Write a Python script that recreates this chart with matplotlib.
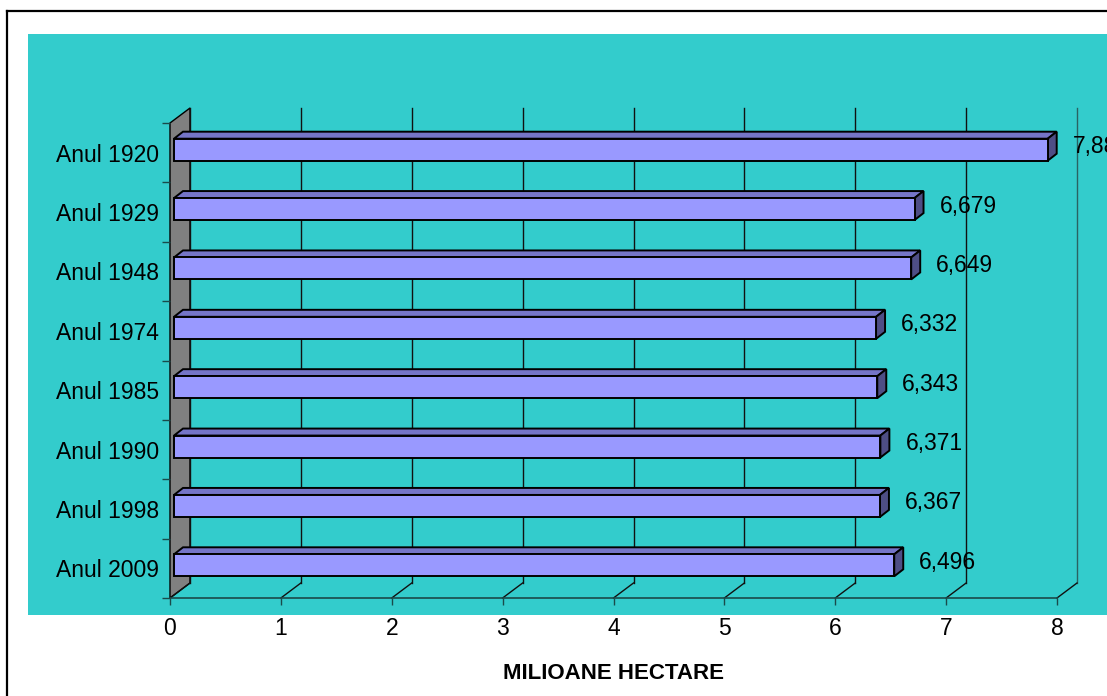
import numpy as np
import matplotlib
matplotlib.use('Agg')
import matplotlib.pyplot as plt
from matplotlib.patches import Polygon, Rectangle
from matplotlib.lines import Line2D

matplotlib.rcParams['font.family'] = ['Liberation Sans', 'DejaVu Sans']
matplotlib.rcParams['font.size'] = 16

# date
categories = ['Anul 1920', 'Anul 1929', 'Anul 1948', 'Anul 1974',
              'Anul 1985', 'Anul 1990', 'Anul 1998', 'Anul 2009']
values = [7.88, 6.679, 6.649, 6.332, 6.343, 6.371, 6.367, 6.496]
value_labels = ['7,88', '6,679', '6,649', '6,332', '6,343', '6,371', '6,367', '6,496']
xticks = [0, 1, 2, 3, 4, 5, 6, 7, 8]

W, H = 1107, 696
fig = plt.figure(figsize=(W / 100, H / 100), dpi=100)

# fundal turcoaz si chenar
fig.patches.append(Rectangle((28 / W, 1 - 615 / H), 1.0, (615 - 34) / H,
                             transform=fig.transFigure, facecolor='#33CCCC',
                             edgecolor='none', zorder=-5))
fig.lines.append(Line2D([7 / W, 7 / W], [0, 1 - 11 / H], transform=fig.transFigure,
                        color='black', lw=1.6, zorder=-5))
fig.lines.append(Line2D([7 / W, 1], [1 - 11 / H, 1 - 11 / H], transform=fig.transFigure,
                        color='black', lw=1.6, zorder=-5))

ax = fig.add_axes([170 / W, 98 / H, 887 / W, 475 / H])
ax.set_zorder(2)
ax.patch.set_visible(False)
for s in ax.spines.values():
    s.set_visible(False)

n = len(categories)
ax.set_xlim(0, 8)
ax.set_ylim(n - 0.5, -0.5)

# conversie pixeli -> unitati de date
px_x = 8 / 887.0
px_y = n / 475.0

# adancimea podelei / peretelui
wdx, wdy = 20 * px_x, 15 * px_y
y_lo, y_hi = n - 0.5, -0.5

# perete lateral gri
ax.add_patch(Polygon([(0, y_lo), (0, y_hi), (wdx, y_hi - wdy), (wdx, y_lo - wdy)],
                     closed=True, facecolor='#808080', edgecolor='black', lw=1,
                     zorder=1, clip_on=False))

# linii de grila (spate) si diagonalele podelei
for k in xticks:
    col = '#2a6262' if k == xticks[-1] else '#111111'
    ax.plot([k + wdx, k + wdx], [y_lo - wdy, y_hi - wdy], color=col, lw=1,
            zorder=1, clip_on=False)
    ax.plot([k, k + wdx], [y_lo, y_lo - wdy], color='#111111', lw=1,
            zorder=1, clip_on=False)
ax.plot([0, 8], [y_lo, y_lo], color='#1a4a4a', lw=1.2, zorder=1, clip_on=False)

# bare 3D
fdx, fdy = 4 * px_x, 3 * px_y      # fata barei
bdx, bdy = 9 * px_x, 7 * px_y      # adancimea barei
bh = 22 * px_y
for i, v in enumerate(values):
    yc = i - fdy
    y0, y1 = yc + bh / 2, yc - bh / 2   # jos, sus
    x0, x1 = fdx, v + fdx
    top = [(x0, y1), (x1, y1), (x1 + bdx, y1 - bdy), (x0 + bdx, y1 - bdy)]
    side = [(x1, y0), (x1, y1), (x1 + bdx, y1 - bdy), (x1 + bdx, y0 - bdy)]
    ax.add_patch(Polygon(top, closed=True, facecolor='#7575C8', edgecolor='black',
                         lw=1.4, zorder=3, clip_on=False))
    ax.add_patch(Polygon(side, closed=True, facecolor='#4E4E85', edgecolor='black',
                         lw=1.4, zorder=3, clip_on=False))
    ax.add_patch(Rectangle((x0, y1), v, bh, facecolor='#9999FF', edgecolor='black',
                           lw=1.4, zorder=4, clip_on=False))
    ax.text(v + 29 * px_x, i - 6 * px_y, value_labels[i], ha='left', va='center',
            fontsize=16.5, zorder=5, clip_on=False)

# axe
ax.set_xticks(xticks)
ax.set_xticklabels([str(t) for t in xticks])
ax.tick_params(axis='x', direction='out', length=5, width=1, color='#1a4a4a',
               pad=9, labelsize=16.5)
ax.set_yticks(np.arange(n))
ax.set_yticklabels(categories)
ax.set_yticks(np.arange(n + 1) - 0.5, minor=True)
ax.tick_params(axis='y', which='major', length=0, pad=8, labelsize=16.5)
ax.tick_params(axis='y', which='minor', direction='out', length=6, width=1,
               color='#1a4a4a')

ax.set_xlabel('MILIOANE HECTARE', fontweight='bold', fontsize=16, labelpad=16)

fig.savefig('out.png', dpi=100)
